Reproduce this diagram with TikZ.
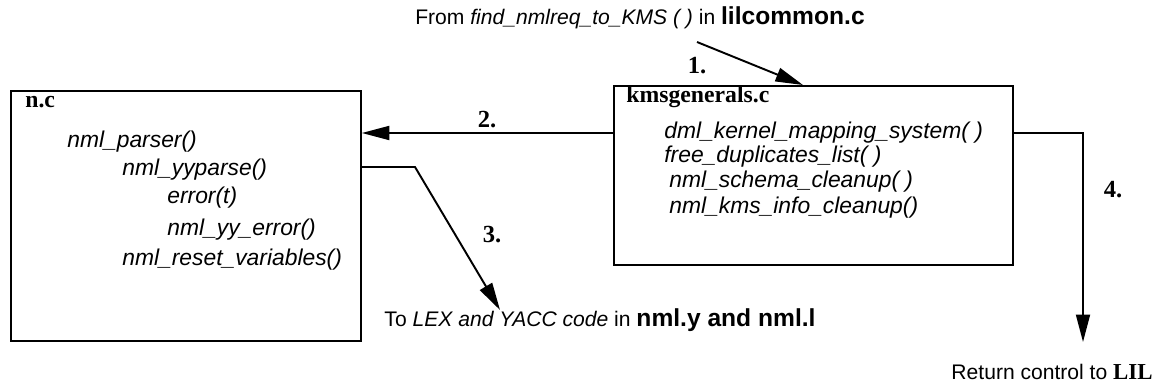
\documentclass[tikz,border=0pt]{standalone}
\usepackage{fontspec}
\setmainfont{Liberation Serif}
\newfontfamily\hvfont{Liberation Sans}
\usetikzlibrary{positioning,arrows.meta}

\begin{document}
\begin{tikzpicture}[
  x=0.02cm, y=-0.02cm,
  box/.style={draw,line width=1.1pt,anchor=north west,inner sep=0pt},
  fn/.style={font=\hvfont\itshape\fontsize{13}{15}\selectfont,anchor=west,inner sep=0pt},
  ttl/.style={font=\bfseries\fontsize{13.5}{15}\selectfont,anchor=west,inner sep=0pt},
  txt/.style={font=\hvfont\fontsize{12}{14}\selectfont,inner sep=0pt},
  num/.style={font=\bfseries\fontsize{14}{16}\selectfont,inner sep=0pt},
  arr/.style={-{Triangle[length=5.5mm,width=2.8mm]},line width=1.1pt},
]
\useasboundingbox (0,0) rectangle (1153,388);

% the two source files
\node[box,minimum width=7cm,minimum height=5cm]        (nc)  at (10,90)  {};
\node[box,minimum width=7.98cm,minimum height=3.58cm]  (kms) at (613,85) {};

% n.c contents
\node[ttl] (nctitle) at (25,102) {n.c};
\node[fn]  (parser)  at (67,142) {nml\_parser()};
\node[fn]  (yyparse) at (122,170) {nml\_yyparse()};
\node[fn]  (err)     at (167,198) {error(t)};
\node[fn]  (yyerr)   at (167,230) {nml\_yy\_error()};
\node[fn]  (reset)   at (122,260) {nml\_reset\_variables()};

% kmsgenerals.c contents
\node[ttl] (kmstitle) at (626,97) {kmsgenerals.c};
\node[fn]  (dml)      at (664,133) {dml\_kernel\_mapping\_system( )};
\node[fn]  (freedup)  at (664,157) {free\_duplicates\_list( )};
\node[fn]  (schema)   at (669,182) {nml\_schema\_cleanup( )};
\node[fn]  (info)     at (669,208) {nml\_kms\_info\_cleanup()};

% outside texts
\node[txt] (src) at (640,18)
  {From \textit{find\_nmlreq\_to\_KMS ( )} in {\fontsize{14}{16}\selectfont\bfseries lilcommon.c}};
\node[txt] (lex) at (600,320)
  {To \textit{LEX and YACC code} in {\fontsize{14}{16}\selectfont\bfseries nml.y and nml.l}};
\node[txt] (ret) at (1052,372) {Return control to {\rmfamily\bfseries\fontsize{13}{15}\selectfont LIL}};

% step numbers
\node[num] (n1) at (697,66)  {1.};
\node[num] (n2) at (487,120) {2.};
\node[num] (n3) at (492,235) {3.};
\node[num] (n4) at (1113,190) {4.};

% connectors
\coordinate (a1) at (697,42);
\coordinate (a3bend) at (415,167);
\coordinate (a3end) at (500,310);
\coordinate (a4end) at (1083,342);
\draw[arr] (a1) -- ([xshift=3.8cm]kms.north west);
\draw[arr] (kms.west |- dml.west) -- (nc.east |- dml.west);
\draw[arr] (nc.east |- a3bend) -- (a3bend) -- (a3end);
\draw[arr] (kms.east |- dml.west) -| (a4end);
\end{tikzpicture}
\end{document}
